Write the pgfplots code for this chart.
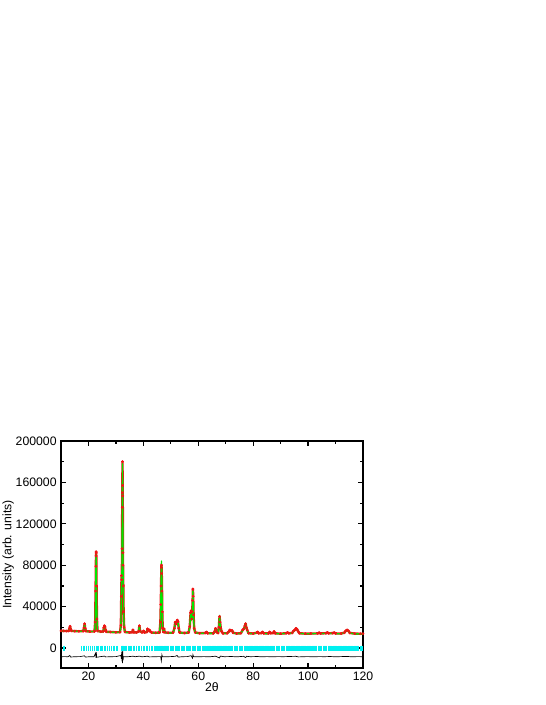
\documentclass[border=0pt]{standalone}
\usepackage{fontspec}
\setmainfont{Liberation Sans}
\usepackage{pgfplots}
\usepackage{pgfplotstable}
\pgfplotsset{compat=1.18}
\definecolor{obsred}{RGB}{240,20,20}
\definecolor{calcgreen}{RGB}{0,230,0}
\definecolor{braggcyan}{RGB}{0,240,240}
\pgfplotstableread{
x obs calc
10.0 16600 16500
11.0 16500 16450
12.0 16400 16400
12.8 16500 16450
13.1 19000 18500
13.3 21000 20500
13.5 18500 18500
13.8 16600 16500
15.0 16300 16300
16.5 16200 16200
18.1 16300 16200
18.4 19500 19000
18.6 23500 22800
18.8 19000 19000
19.1 16300 16200
20.5 15900 15900
22.2 16000 15900
22.45 25000 24000
22.6 55000 52000
22.7 79000 76000
22.75 89000 86000
22.8 93000 90000
22.85 92000 89000
22.95 60000 58000
23.1 28000 27000
23.3 16500 16200
24.5 15800 15700
25.4 16000 15900
25.6 19500 19000
25.8 21500 21000
26.0 20500 20000
26.2 17500 17000
26.5 15700 15600
28.0 15500 15400
30.0 15200 15100
31.5 15300 15200
31.8 22000 21000
31.95 50000 48000
32.05 70000 68000
32.15 66000 64000
32.25 96000 92000
32.3 136000 134000
32.35 150000 148000
32.4 180000 178000
32.45 157000 155000
32.5 147000 145000
32.55 92000 90000
32.6 80000 78000
32.7 60000 62000
32.8 35000 34000
33.0 20000 19000
33.3 15500 15200
35.0 15000 14900
35.9 15300 15200
36.2 17500 17000
36.5 15200 15100
37.5 15000 14900
38.3 16000 15800
38.55 21500 21000
38.8 16500 16200
39.5 15000 14900
40.1 16500 16200
40.4 15000 14900
41.3 15500 15400
41.5 18500 18000
41.8 17000 16800
42.2 17500 17200
42.5 16000 15800
43.0 15000 14800
44.5 14700 14600
45.9 15000 14900
46.2 25000 24000
46.35 42000 44000
46.45 60000 63000
46.55 78000 80000
46.6 80000 84000
46.7 72000 74000
46.8 55000 53000
46.9 35000 33000
47.05 19000 18500
47.3 15500 15300
47.55 18500 18000
47.8 15200 15000
49.0 14700 14600
50.8 14800 14700
51.3 19000 18500
51.6 25000 24500
51.8 23000 22500
52.1 24500 24000
52.35 27000 26500
52.6 25500 25000
52.9 19000 18500
53.2 15000 14800
55.0 14500 14400
56.5 15000 14900
56.9 21000 20000
57.2 34000 33000
57.4 36000 35000
57.6 28000 27000
57.8 35000 34000
57.95 46000 47000
58.05 57000 55000
58.15 50000 48000
58.3 32000 30000
58.5 19000 18500
58.9 15000 14800
60.5 14300 14200
62.5 14500 14400
63.0 15500 15200
63.4 14300 14200
65.5 14200 14100
66.1 16500 16200
66.3 19000 18500
66.6 15500 15200
67.2 14500 14300
67.5 20000 19000
67.75 30500 31500
67.95 25000 24000
68.2 19000 18500
68.5 16000 15800
69.0 14200 14100
70.5 14300 14200
71.2 16000 15800
71.5 17500 17200
71.9 16500 16200
72.3 17000 16800
72.7 14800 14600
74.0 14000 13900
75.5 14300 14200
76.2 17500 17000
76.6 18500 18000
77.0 21500 21500
77.25 23500 24000
77.5 20000 19500
77.8 17500 17000
78.3 14300 14100
80.0 14000 13900
81.3 14800 14600
81.6 15500 15300
82.0 14200 14000
83.0 14500 14300
83.4 15500 15200
83.8 14200 14000
85.6 14100 13900
86.0 15500 15300
86.4 14300 14100
87.3 14500 14300
87.6 16000 15800
88.0 14200 14000
90.0 13900 13800
92.0 14300 14100
92.5 15000 14800
93.0 14200 14000
94.2 14600 14400
94.7 16500 16200
95.2 17500 17200
95.6 19000 19000
96.0 18000 17800
96.4 16000 15800
96.8 14300 14100
99.0 13900 13800
101.0 14000 13900
103.5 14100 14000
104.0 14800 14600
104.5 14100 13900
106.5 14300 14100
107.0 15000 14800
107.5 14200 14000
109.0 14400 14200
109.5 14900 14700
110.0 14100 13900
112.0 14000 13800
113.2 14800 14600
113.7 16500 16300
114.2 17500 17500
114.7 16500 16200
115.2 14600 14400
117.0 13900 13700
119.0 13800 13700
120.0 13800 13600
}\pattern
\pgfplotstableread{
x diff
10.0 -8400
11.5 -8300
12.5 -8500
13.2 -7200
13.5 -8700
15.0 -8400
17.0 -8300
18.5 -7500
18.9 -8700
20.5 -8400
22.0 -8400
22.6 -5000
22.75 -9500
22.85 -4000
23.0 -8900
24.5 -8300
25.8 -7800
26.3 -8600
28.0 -8400
30.0 -8300
31.8 -7200
32.0 -10500
32.1 -3500
32.2 -13000
32.3 -4500
32.4 -14500
32.5 -2500
32.6 -12000
32.75 -8400
34.0 -8500
36.2 -7900
37.0 -8400
38.6 -7800
39.5 -8500
41.5 -7900
42.2 -8600
44.0 -8400
46.3 -8300
46.55 -12500
46.75 -6500
46.95 -8400
48.0 -8500
50.0 -8300
51.6 -8000
52.3 -7200
52.7 -8800
54.0 -8400
56.0 -8300
57.4 -7400
57.9 -9800
58.05 -6500
58.3 -8400
60.0 -8500
62.0 -8300
64.0 -8500
66.3 -7900
67.75 -9600
68.0 -7800
69.5 -8400
72.0 -8200
74.0 -8500
76.5 -8000
77.25 -9200
77.6 -8000
79.0 -8400
81.5 -8200
83.0 -8500
85.0 -8300
87.0 -8500
89.0 -8300
91.0 -8400
93.0 -8200
95.5 -8000
96.5 -8600
98.0 -8400
100.0 -8300
102.0 -8500
104.0 -8300
106.0 -8400
108.0 -8200
110.0 -8500
112.0 -8300
114.0 -8100
116.0 -8500
118.0 -8300
120.0 -8400
}\difference
\pgfplotstableread{
x y
11.0 -500
11.3 -500
17.6 -500
18.3 -500
18.7 -500
19.4 -500
20.1 -500
20.6 -500
21.4 -500
22.3 -500
22.8 -500
23.5 -500
24.6 -500
25.1 -500
25.7 -500
26.2 -500
26.8 -500
27.6 -500
28.3 -500
29.1 -500
29.6 -500
30.4 -500
31.9 -500
32.2 -500
32.4 -500
32.7 -500
33.3 -500
33.9 -500
34.6 -500
35.1 -500
35.8 -500
36.3 -500
36.9 -500
37.6 -500
38.2 -500
38.6 -500
39.3 -500
40.0 -500
40.4 -500
41.1 -500
41.5 -500
42.2 -500
42.9 -500
43.4 -500
44.1 -500
44.6 -500
45.2 -500
45.7 -500
46.1 -500
46.6 -500
47.0 -500
47.5 -500
47.9 -500
48.4 -500
48.8 -500
49.3 -500
49.8 -500
50.2 -500
50.7 -500
51.1 -500
51.6 -500
52.0 -500
52.4 -500
52.9 -500
53.3 -500
53.8 -500
54.2 -500
54.7 -500
55.1 -500
55.6 -500
56.0 -500
56.5 -500
56.9 -500
57.3 -500
57.8 -500
58.2 -500
58.7 -500
59.1 -500
59.6 -500
60.0 -500
60.5 -500
60.9 -500
61.4 -500
61.8 -500
62.3 -500
62.7 -500
63.2 -500
63.6 -500
64.1 -500
64.5 -500
65.0 -500
65.4 -500
65.9 -500
66.3 -500
66.8 -500
67.2 -500
67.7 -500
68.1 -500
68.6 -500
69.0 -500
69.5 -500
69.9 -500
70.4 -500
70.8 -500
71.3 -500
71.7 -500
72.2 -500
72.6 -500
73.1 -500
73.5 -500
74.0 -500
74.4 -500
74.9 -500
75.3 -500
75.8 -500
76.2 -500
76.7 -500
77.1 -500
77.6 -500
78.0 -500
78.5 -500
78.9 -500
79.4 -500
79.8 -500
80.3 -500
80.7 -500
81.2 -500
81.6 -500
82.1 -500
82.5 -500
83.0 -500
83.4 -500
83.9 -500
84.3 -500
84.8 -500
85.2 -500
85.7 -500
86.1 -500
86.6 -500
87.0 -500
87.5 -500
87.9 -500
88.4 -500
88.8 -500
89.3 -500
89.7 -500
90.2 -500
90.6 -500
91.1 -500
91.5 -500
92.0 -500
92.4 -500
92.9 -500
93.3 -500
93.8 -500
94.2 -500
94.7 -500
95.1 -500
95.6 -500
96.0 -500
96.5 -500
96.9 -500
97.4 -500
97.8 -500
98.3 -500
98.7 -500
99.2 -500
99.6 -500
100.1 -500
100.5 -500
101.0 -500
101.4 -500
101.9 -500
102.3 -500
102.8 -500
103.2 -500
103.7 -500
104.1 -500
104.6 -500
105.0 -500
105.5 -500
105.9 -500
106.4 -500
106.8 -500
107.3 -500
107.7 -500
108.2 -500
108.6 -500
109.1 -500
109.5 -500
110.0 -500
110.4 -500
110.9 -500
111.3 -500
111.8 -500
112.2 -500
112.7 -500
113.1 -500
113.6 -500
114.0 -500
114.5 -500
114.9 -500
115.4 -500
115.8 -500
116.3 -500
116.7 -500
117.2 -500
117.6 -500
118.1 -500
118.5 -500
119.0 -500
119.4 -500
119.8 -500
}\bragg
\begin{document}
\fontsize{9.2}{11}\selectfont
\begin{tikzpicture}
\useasboundingbox (-45.75pt,-27.75pt) rectangle (363pt,501pt);
\begin{axis}[
  at={(0,0)}, anchor=south west, scale only axis,
  width=226.5pt, height=170.25pt,
  xmin=10, xmax=120, ymin=-19300, ymax=200000,
  xtick={20,40,...,120}, minor x tick num=1,
  ytick={0,40000,80000,120000,160000,200000}, minor y tick num=1,
  tick align=inside, major tick length=4pt, minor tick length=2.5pt,
  axis line style={line width=1pt},
  every tick/.style={black, line width=0.9pt},
  scaled y ticks=false,
  yticklabel style={/pgf/number format/.cd, fixed, 1000 sep={}},
  /pgf/number format/assume math mode=true,
  xlabel={2θ}, ylabel={Intensity (arb. units)},
  xlabel style={yshift=5pt},
  ylabel style={yshift=-5pt},
  clip=true,
]
\addplot[obsred, line width=1.8pt, line join=round, line cap=round, mark=*, mark size=0.9pt, mark options={fill=obsred, draw=obsred, line width=0.3pt}] table[x=x, y=obs] {\pattern};
\addplot[calcgreen, line width=1pt, line join=round] table[x=x, y=calc] {\pattern};
\addplot[black, line width=0.5pt] table[x=x, y=diff] {\difference};
\addplot[braggcyan, only marks, mark=|, mark size=2.2pt, mark options={line width=0.9pt}] table[x=x, y=y] {\bragg};
\end{axis}
\end{tikzpicture}
\end{document}
